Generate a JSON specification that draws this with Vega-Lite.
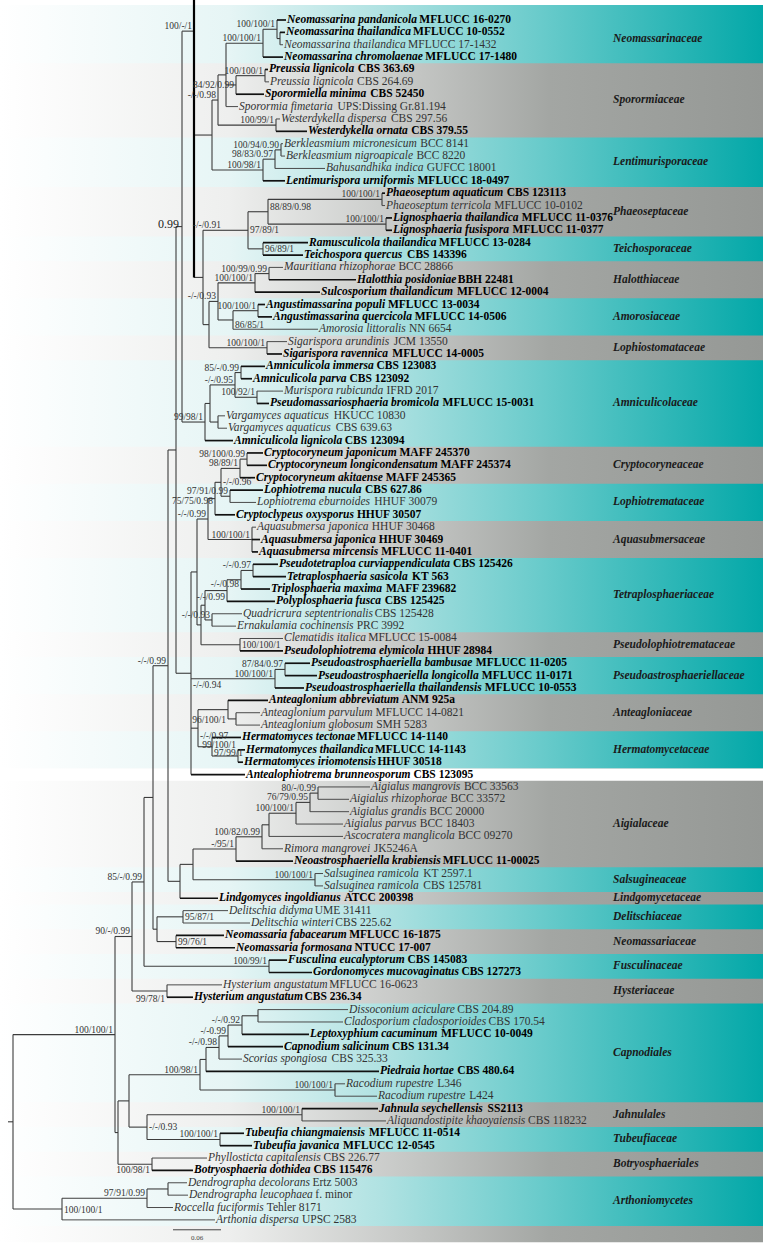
{
"$schema": "https://vega.github.io/schema/vega-lite/v6.json",
"width": 770, "height": 1247, "padding": 0, "autosize": {"type": "none"},
"background": "white",
"config": {"view": {"stroke": null}, "font": "Liberation Serif"},
"datasets": {
"taxa": [
{"r":1,"tx":0.3575,"p":0.34625,"n":"Neomassarina pandanicola","s":"MFLUCC 16-0270","b":1},
{"r":2,"tx":0.35625,"p":0.35,"n":"Neomassarina thailandica","s":"MFLUCC 10-0552","b":1},
{"r":3,"tx":0.35375,"p":0.35,"n":"Neomassarina thailandica","s":"MFLUCC 17-1432","b":0},
{"r":4,"tx":0.35375,"p":0.32875,"n":"Neomassarina chromolaenae","s":"MFLUCC 17-1480","b":1},
{"r":5,"tx":0.335,"p":0.33125,"n":"Preussia lignicola","s":"CBS 363.69","b":1},
{"r":6,"tx":0.33625,"p":0.33125,"n":"Preussia lignicola","s":"CBS 264.69","b":0},
{"r":7,"tx":0.33,"p":0.295,"n":"Sporormiella minima","s":"CBS 52450","b":1},
{"r":8,"tx":0.2975,"p":0.2825,"n":"Sporormia fimetaria","s":"UPS:Dissing Gr.81.194","b":0},
{"r":9,"tx":0.35,"p":0.345,"n":"Westerdykella dispersa","s":"CBS 297.56","b":0},
{"r":10,"tx":0.38375,"p":0.345,"n":"Westerdykella ornata","s":"CBS 379.55","b":1},
{"r":11,"tx":0.35375,"p":0.35125,"n":"Berkleasmium micronesicum","s":"BCC 8141","b":0},
{"r":12,"tx":0.35625,"p":0.35125,"n":"Berkleasmium nigroapicale","s":"BCC 8220","b":0},
{"r":13,"tx":0.40625,"p":0.34375,"n":"Bahusandhika indica","s":"GUFCC 18001","b":0},
{"r":14,"tx":0.35625,"p":0.32875,"n":"Lentimurispora urniformis","s":"MFLUCC 18-0497","b":1},
{"r":15,"tx":0.48125,"p":0.4775,"n":"Phaeoseptum aquaticum","s":"CBS 123113","b":1},
{"r":16,"tx":0.48125,"p":0.4775,"n":"Phaeoseptum terricola","s":"MFLUCC 10-0102","b":0},
{"r":17,"tx":0.49,"p":0.4825,"n":"Lignosphaeria thailandica","s":"MFLUCC 11-0376","b":1},
{"r":18,"tx":0.49,"p":0.4825,"n":"Lignosphaeria fusispora","s":"MFLUCC 11-0377","b":1},
{"r":19,"tx":0.385,"p":0.32875,"n":"Ramusculicola thailandica","s":"MFLUCC 13-0284","b":1},
{"r":20,"tx":0.37875,"p":0.32875,"n":"Teichospora quercus","s":"CBS 143396","b":1},
{"r":21,"tx":0.35375,"p":0.33625,"n":"Mauritiana rhizophorae","s":"BCC 28866","b":0},
{"r":22,"tx":0.445,"p":0.33625,"n":"Halotthia posidoniae","s":"BBH 22481","b":1},
{"r":23,"tx":0.4,"p":0.31875,"n":"Sulcosporium thailandicum","s":"MFLUCC 12-0004","b":1},
{"r":24,"tx":0.33125,"p":0.3225,"n":"Angustimassarina populi","s":"MFLUCC 13-0034","b":1},
{"r":25,"tx":0.34,"p":0.3225,"n":"Angustimassarina quercicola","s":"MFLUCC 14-0506","b":1},
{"r":26,"tx":0.3975,"p":0.29125,"n":"Amorosia littoralis","s":"NN 6654","b":0},
{"r":27,"tx":0.35875,"p":0.33375,"n":"Sigarispora arundinis","s":"JCM 13550","b":0},
{"r":28,"tx":0.3525,"p":0.33375,"n":"Sigarispora ravennica","s":"MFLUCC 14-0005","b":1},
{"r":29,"tx":0.33125,"p":0.30125,"n":"Amniculicola immersa","s":"CBS 123083","b":1},
{"r":30,"tx":0.315,"p":0.30125,"n":"Amniculicola parva","s":"CBS 123092","b":1},
{"r":31,"tx":0.35375,"p":0.32125,"n":"Murispora rubicunda","s":"IFRD 2017","b":0},
{"r":32,"tx":0.33625,"p":0.32125,"n":"Pseudomassariosphaeria bromicola","s":"MFLUCC 15-0031","b":1},
{"r":33,"tx":0.28125,"p":0.2725,"n":"Vargamyces aquaticus","s":"HKUCC 10830","b":0},
{"r":34,"tx":0.28375,"p":0.2725,"n":"Vargamyces aquaticus","s":"CBS 639.63","b":0},
{"r":35,"tx":0.29125,"p":0.25625,"n":"Amniculicola lignicola","s":"CBS 123094","b":1},
{"r":36,"tx":0.32875,"p":0.30875,"n":"Cryptocoryneum japonicum","s":"MAFF 245370","b":1},
{"r":37,"tx":0.33375,"p":0.30875,"n":"Cryptocoryneum longicondensatum","s":"MAFF 245374","b":1},
{"r":38,"tx":0.31875,"p":0.3,"n":"Cryptocoryneum akitaense","s":"MAFF 245365","b":1},
{"r":39,"tx":0.32875,"p":0.2875,"n":"Lophiotrema nucula","s":"CBS 627.86","b":1},
{"r":40,"tx":0.32,"p":0.2875,"n":"Lophiotrema eburnoides","s":"HHUF 30079","b":0},
{"r":41,"tx":0.29375,"p":0.26875,"n":"Cryptoclypeus oxysporus","s":"HHUF 30507","b":1},
{"r":42,"tx":0.32,"p":0.315,"n":"Aquasubmersa japonica","s":"HHUF 30468","b":0},
{"r":43,"tx":0.325,"p":0.315,"n":"Aquasubmersa japonica","s":"HHUF 30469","b":1},
{"r":44,"tx":0.3225,"p":0.315,"n":"Aquasubmersa mircensis","s":"MFLUCC 11-0401","b":1},
{"r":45,"tx":0.3475,"p":0.31625,"n":"Pseudotetraploa curviappendiculata","s":"CBS 125426","b":1},
{"r":46,"tx":0.3575,"p":0.31625,"n":"Tetraplosphaeria sasicola","s":"KT 563","b":1},
{"r":47,"tx":0.3375,"p":0.30125,"n":"Triplosphaeria maxima","s":"MAFF 239682","b":1},
{"r":48,"tx":0.34375,"p":0.28375,"n":"Polyplosphaeria fusca","s":"CBS 125425","b":1},
{"r":49,"tx":0.3025,"p":0.265,"n":"Quadricrura septentrionalis","s":"CBS 125428","b":0},
{"r":50,"tx":0.295,"p":0.265,"n":"Ernakulamia cochinensis","s":"PRC 3992","b":0},
{"r":51,"tx":0.35375,"p":0.3,"n":"Clematidis italica","s":"MFLUCC 15-0084","b":0},
{"r":52,"tx":0.35375,"p":0.3,"n":"Pseudolophiotrema elymicola","s":"HHUF 28984","b":1},
{"r":53,"tx":0.3875,"p":0.35625,"n":"Pseudoastrosphaeriella bambusae","s":"MFLUCC 11-0205","b":1},
{"r":54,"tx":0.39625,"p":0.35625,"n":"Pseudoastrosphaeriella longicolla","s":"MFLUCC 11-0171","b":1},
{"r":55,"tx":0.38,"p":0.34375,"n":"Pseudoastrosphaeriella thailandensis","s":"MFLUCC 10-0553","b":1},
{"r":56,"tx":0.335,"p":0.285,"n":"Anteaglonium abbreviatum","s":"ANM 925a","b":1},
{"r":57,"tx":0.325,"p":0.295,"n":"Anteaglonium parvulum","s":"MFLUCC 14-0821","b":0},
{"r":58,"tx":0.325,"p":0.295,"n":"Anteaglonium globosum","s":"SMH 5283","b":0},
{"r":59,"tx":0.30125,"p":0.265,"n":"Hermatomyces tectonae","s":"MFLUCC 14-1140","b":1},
{"r":60,"tx":0.30625,"p":0.2975,"n":"Hermatomyces thailandica","s":"MFLUCC 14-1143","b":1},
{"r":61,"tx":0.30375,"p":0.2975,"n":"Hermatomyces iriomotensis","s":"HHUF 30518","b":1},
{"r":62,"tx":0.30625,"p":0.23875,"n":"Antealophiotrema brunneosporum","s":"CBS 123095","b":1},
{"r":63,"tx":0.4625,"p":0.3975,"n":"Aigialus mangrovis","s":"BCC 33563","b":0},
{"r":64,"tx":0.43625,"p":0.3975,"n":"Aigialus rhizophorae","s":"BCC 33572","b":0},
{"r":65,"tx":0.43625,"p":0.3875,"n":"Aigialus grandis","s":"BCC 20000","b":0},
{"r":66,"tx":0.42875,"p":0.37,"n":"Aigialus parvus","s":"BCC 18403","b":0},
{"r":67,"tx":0.42875,"p":0.33625,"n":"Ascocratera manglicola","s":"BCC 09270","b":0},
{"r":68,"tx":0.35375,"p":0.3275,"n":"Rimora mangrovei","s":"JK5246A","b":0},
{"r":69,"tx":0.36625,"p":0.295,"n":"Neoastrosphaeriella krabiensis","s":"MFLUCC 11-00025","b":1},
{"r":70,"tx":0.40375,"p":0.39375,"n":"Salsuginea ramicola","s":"KT 2597.1","b":0},
{"r":71,"tx":0.40375,"p":0.39375,"n":"Salsuginea ramicola","s":"CBS 125781","b":0},
{"r":72,"tx":0.2725,"p":0.225,"n":"Lindgomyces ingoldianus","s":"ATCC 200398","b":1},
{"r":73,"tx":0.285,"p":0.22875,"n":"Delitschia didyma","s":"UME 31411","b":0},
{"r":74,"tx":0.3125,"p":0.22875,"n":"Delitschia winteri","s":"CBS 225.62","b":0},
{"r":75,"tx":0.28,"p":0.22,"n":"Neomassaria fabacearum","s":"MFLUCC 16-1875","b":1},
{"r":76,"tx":0.29375,"p":0.22,"n":"Neomassaria formosana","s":"NTUCC 17-007","b":1},
{"r":77,"tx":0.35875,"p":0.33625,"n":"Fusculina eucalyptorum","s":"CBS 145083","b":1},
{"r":78,"tx":0.39,"p":0.33625,"n":"Gordonomyces mucovaginatus","s":"CBS 127273","b":1},
{"r":79,"tx":0.2775,"p":0.20875,"n":"Hysterium angustatum","s":"MFLUCC 16-0623","b":0},
{"r":80,"tx":0.24125,"p":0.20875,"n":"Hysterium angustatum","s":"CBS 236.34","b":1},
{"r":81,"tx":0.435,"p":0.3225,"n":"Dissoconium aciculare","s":"CBS 204.89","b":0},
{"r":82,"tx":0.42875,"p":0.3225,"n":"Cladosporium cladosporioides","s":"CBS 170.54","b":0},
{"r":83,"tx":0.38625,"p":0.3025,"n":"Leptoxyphium cacuminum","s":"MFLUCC 10-0049","b":1},
{"r":84,"tx":0.35375,"p":0.285,"n":"Capnodium salicinum","s":"CBS 131.34","b":1},
{"r":85,"tx":0.3025,"p":0.27375,"n":"Scorias spongiosa","s":"CBS 325.33","b":0},
{"r":86,"tx":0.47375,"p":0.2575,"n":"Piedraia hortae","s":"CBS 480.64","b":1},
{"r":87,"tx":0.43125,"p":0.41875,"n":"Racodium rupestre","s":"L346","b":0},
{"r":88,"tx":0.47125,"p":0.41875,"n":"Racodium rupestre","s":"L424","b":0},
{"r":89,"tx":0.4725,"p":0.3775,"n":"Jahnula seychellensis","s":"SS2113","b":1},
{"r":90,"tx":0.4825,"p":0.3775,"n":"Aliquandostipite khaoyaiensis","s":"CBS 118232","b":0},
{"r":91,"tx":0.305,"p":0.275,"n":"Tubeufia chiangmaiensis","s":"MFLUCC 11-0514","b":1},
{"r":92,"tx":0.315,"p":0.275,"n":"Tubeufia javanica","s":"MFLUCC 12-0545","b":1},
{"r":93,"tx":0.25875,"p":0.19,"n":"Phyllosticta capitalensis","s":"CBS 226.77","b":0},
{"r":94,"tx":0.24125,"p":0.19,"n":"Botryosphaeria dothidea","s":"CBS 115476","b":1},
{"r":95,"tx":0.23375,"p":0.21,"n":"Dendrographa decolorans","s":"Ertz 5003","b":0},
{"r":96,"tx":0.235,"p":0.21,"n":"Dendrographa leucophaea","s":"f. minor","b":0},
{"r":97,"tx":0.21625,"p":0.18375,"n":"Roccella fuciformis","s":"Tehler 8171","b":0},
{"r":98,"tx":0.26875,"p":0.0775,"n":"Arthonia dispersa","s":"UPSC 2583","b":0}
],
"nodes": [
{"id":"Nt","x":0.35,"p":0.34625,"r":2.5,"lo":2,"hi":3,"s":""},
{"id":"N3","x":0.34625,"p":0.32875,"r":1.75,"lo":1,"hi":2.5,"s":"100/100/1"},
{"id":"N4","x":0.32875,"p":0.2825,"r":2.875,"lo":1.75,"hi":4,"s":"100/100/1"},
{"id":"Pre","x":0.33125,"p":0.295,"r":5.5,"lo":5,"hi":6,"s":"100/100/1"},
{"id":"S1","x":0.295,"p":0.2825,"r":6.25,"lo":5.5,"hi":7,"s":"84/92/0.99"},
{"id":"NS","x":0.2825,"p":0.2725,"r":5.4375,"lo":2.875,"hi":8,"s":""},
{"id":"Wd","x":0.345,"p":0.2725,"r":9.5,"lo":9,"hi":10,"s":"100/99/1"},
{"id":"Bk","x":0.35125,"p":0.34375,"r":11.5,"lo":11,"hi":12,"s":"100/94/0.90"},
{"id":"BkB","x":0.34375,"p":0.32875,"r":12.25,"lo":11.5,"hi":13,"s":"98/83/0.97"},
{"id":"Lenti","x":0.32875,"p":0.265,"r":13.125,"lo":12.25,"hi":14,"s":"100/98/1"},
{"id":"A","x":0.2725,"p":0.265,"r":7.47,"lo":5.4375,"hi":9.5,"s":"-/-/0.98"},
{"id":"A2","x":0.265,"p":0.2425,"r":10.3,"lo":7.47,"hi":13.125,"s":""},
{"id":"Ph","x":0.4775,"p":0.335,"r":15.5,"lo":15,"hi":16,"s":"100/100/1"},
{"id":"Lg","x":0.4825,"p":0.335,"r":17.5,"lo":17,"hi":18,"s":"100/100/1"},
{"id":"PL","x":0.335,"p":0.31,"r":16.5,"lo":15.5,"hi":17.5,"s":"88/89/0.98"},
{"id":"Te","x":0.32875,"p":0.31,"r":19.5,"lo":19,"hi":20,"s":"96/89/1"},
{"id":"PT","x":0.31,"p":0.27875,"r":18,"lo":16.5,"hi":19.5,"s":"97/89/1"},
{"id":"PTs","x":0.27875,"p":0.25375,"r":18,"lo":18,"hi":18,"s":"-/-/0.91"},
{"id":"Ha1","x":0.33625,"p":0.31875,"r":21.5,"lo":21,"hi":22,"s":"100/99/0.99"},
{"id":"Halo","x":0.31875,"p":0.2725,"r":22.25,"lo":21.5,"hi":23,"s":"100/100/1"},
{"id":"Am1","x":0.3225,"p":0.29125,"r":24.5,"lo":24,"hi":25,"s":"100/100/1"},
{"id":"Am","x":0.29125,"p":0.2725,"r":25.25,"lo":24.5,"hi":26,"s":"86/85/1"},
{"id":"X218","x":0.2725,"p":0.26125,"r":23.75,"lo":22.25,"hi":25.25,"s":"-/-/0.93"},
{"id":"Sig","x":0.33375,"p":0.26125,"r":27.5,"lo":27,"hi":28,"s":"100/100/1"},
{"id":"X209","x":0.26125,"p":0.25375,"r":25.625,"lo":23.75,"hi":27.5,"s":""},
{"id":"N091","x":0.25375,"p":0.2425,"r":21.81,"lo":18,"hi":25.625,"s":""},
{"id":"X194","x":0.2425,"p":0.2275,"r":1.9,"lo":-1.75,"hi":21.81,"s":"100/-/1"},
{"id":"Am_a","x":0.30125,"p":0.29375,"r":29.5,"lo":29,"hi":30,"s":"85/-/0.99"},
{"id":"Mb","x":0.32125,"p":0.29375,"r":31.5,"lo":31,"hi":32,"s":"100/92/1"},
{"id":"AmM","x":0.29375,"p":0.2625,"r":30.5,"lo":29.5,"hi":31.5,"s":"-/-/0.95"},
{"id":"V","x":0.2725,"p":0.2625,"r":33.5,"lo":33,"hi":34,"s":""},
{"id":"AmV","x":0.2625,"p":0.25625,"r":32,"lo":30.5,"hi":33.5,"s":""},
{"id":"Amn","x":0.25625,"p":0.2275,"r":33.5,"lo":32,"hi":35,"s":"99/98/1"},
{"id":"N099","x":0.2275,"p":0.22,"r":17.7,"lo":1.9,"hi":33.5,"s":"0.99"},
{"id":"Cr1","x":0.30875,"p":0.3,"r":36.5,"lo":36,"hi":37,"s":"98/100/0.99"},
{"id":"Cr","x":0.3,"p":0.27625,"r":37.25,"lo":36.5,"hi":38,"s":"98/89/1"},
{"id":"Lo1","x":0.2875,"p":0.27625,"r":39.5,"lo":39,"hi":40,"s":"97/91/0.99"},
{"id":"CL","x":0.27625,"p":0.26875,"r":38.375,"lo":37.25,"hi":39.5,"s":"-/-/0.96"},
{"id":"CLC","x":0.26875,"p":0.26,"r":39.69,"lo":38.375,"hi":41,"s":"75/75/0.98"},
{"id":"Aq","x":0.315,"p":0.26,"r":43,"lo":42,"hi":44,"s":"100/100/1"},
{"id":"CA","x":0.26,"p":0.24625,"r":41.34,"lo":39.69,"hi":43,"s":"-/-/0.99"},
{"id":"Tp1","x":0.31625,"p":0.30125,"r":45.5,"lo":45,"hi":46,"s":"-/-/0.97"},
{"id":"Tp2","x":0.30125,"p":0.28375,"r":46.25,"lo":45.5,"hi":47,"s":"-/-/0.98"},
{"id":"Tp3","x":0.28375,"p":0.25625,"r":47.125,"lo":46.25,"hi":48,"s":"-/-/0.99"},
{"id":"Tp4","x":0.265,"p":0.25625,"r":49.5,"lo":49,"hi":50,"s":"-/-/0.93"},
{"id":"Tetra","x":0.25625,"p":0.25125,"r":48.31,"lo":47.125,"hi":49.5,"s":""},
{"id":"Cl","x":0.3,"p":0.25125,"r":51.5,"lo":51,"hi":52,"s":"100/100/1"},
{"id":"TC","x":0.25125,"p":0.24625,"r":49.9,"lo":48.31,"hi":51.5,"s":""},
{"id":"R1","x":0.24625,"p":0.23875,"r":45.62,"lo":41.34,"hi":49.9,"s":""},
{"id":"Pa1","x":0.35625,"p":0.34375,"r":53.5,"lo":53,"hi":54,"s":"87/84/0.97"},
{"id":"Pa","x":0.34375,"p":0.23875,"r":54.25,"lo":53.5,"hi":55,"s":"100/100/1"},
{"id":"Ant2","x":0.295,"p":0.285,"r":57.5,"lo":57,"hi":58,"s":""},
{"id":"Ant","x":0.285,"p":0.2475,"r":56.75,"lo":56,"hi":57.5,"s":"96/100/1"},
{"id":"Hm2","x":0.2975,"p":0.265,"r":60.5,"lo":60,"hi":61,"s":"99/100/1"},
{"id":"Hm","x":0.265,"p":0.2475,"r":59.75,"lo":59,"hi":60.5,"s":"97/99/1"},
{"id":"HA","x":0.2475,"p":0.23875,"r":58.25,"lo":56.75,"hi":59.75,"s":"-/-/0.97"},
{"id":"Y","x":0.23875,"p":0.22,"r":53.81,"lo":45.62,"hi":62,"s":"-/-/0.94"},
{"id":"X176","x":0.22,"p":0.21,"r":35.76,"lo":17.7,"hi":53.81,"s":""},
{"id":"A5","x":0.3975,"p":0.3875,"r":63.5,"lo":63,"hi":64,"s":"80/-/0.99"},
{"id":"A4","x":0.3875,"p":0.37,"r":64.25,"lo":63.5,"hi":65,"s":"76/79/0.95"},
{"id":"A3","x":0.37,"p":0.33625,"r":65.125,"lo":64.25,"hi":66,"s":"100/100/1"},
{"id":"A2x","x":0.33625,"p":0.3275,"r":66.06,"lo":65.125,"hi":67,"s":""},
{"id":"A1","x":0.3275,"p":0.295,"r":67.03,"lo":66.06,"hi":68,"s":"100/82/0.99"},
{"id":"L3","x":0.295,"p":0.24125,"r":68.02,"lo":67.03,"hi":69,"s":"-/95/1"},
{"id":"Sal","x":0.39375,"p":0.24125,"r":70.5,"lo":70,"hi":71,"s":"100/100/1"},
{"id":"L2","x":0.24125,"p":0.225,"r":69.26,"lo":68.02,"hi":70.5,"s":""},
{"id":"L1","x":0.225,"p":0.21,"r":70.63,"lo":69.26,"hi":72,"s":""},
{"id":"X168","x":0.21,"p":0.19125,"r":53.2,"lo":35.76,"hi":70.63,"s":"-/-/0.99"},
{"id":"Del","x":0.22875,"p":0.19625,"r":73.5,"lo":73,"hi":74,"s":"95/87/1"},
{"id":"Neo","x":0.22,"p":0.19625,"r":75.5,"lo":75,"hi":76,"s":"99/76/1"},
{"id":"DN","x":0.19625,"p":0.19125,"r":74.5,"lo":73.5,"hi":75.5,"s":""},
{"id":"X153","x":0.19125,"p":0.18,"r":63.85,"lo":53.2,"hi":74.5,"s":""},
{"id":"Fusc","x":0.33625,"p":0.18,"r":77.5,"lo":77,"hi":78,"s":"100/99/1"},
{"id":"D3","x":0.18,"p":0.165,"r":70.68,"lo":63.85,"hi":77.5,"s":"85/-/0.99"},
{"id":"Hyst","x":0.20875,"p":0.165,"r":79.5,"lo":79,"hi":80,"s":"99/78/1"},
{"id":"D2","x":0.165,"p":0.14375,"r":75.09,"lo":70.68,"hi":79.5,"s":"90/-/0.99"},
{"id":"C1","x":0.3225,"p":0.3025,"r":81.5,"lo":81,"hi":82,"s":""},
{"id":"C2","x":0.3025,"p":0.285,"r":82.25,"lo":81.5,"hi":83,"s":"-/-/0.92"},
{"id":"C3","x":0.285,"p":0.27375,"r":83.125,"lo":82.25,"hi":84,"s":"-/-0.99"},
{"id":"C4","x":0.27375,"p":0.2575,"r":84.06,"lo":83.125,"hi":85,"s":"-/-/0.98"},
{"id":"C5","x":0.2575,"p":0.25,"r":85.03,"lo":84.06,"hi":86,"s":""},
{"id":"Rac","x":0.41875,"p":0.25,"r":87.5,"lo":87,"hi":88,"s":"100/100/1"},
{"id":"Cap","x":0.25,"p":0.16125,"r":86.27,"lo":85.03,"hi":87.5,"s":"100/98/1"},
{"id":"Jah","x":0.3775,"p":0.18375,"r":89.5,"lo":89,"hi":90,"s":"100/100/1"},
{"id":"Tub","x":0.275,"p":0.18375,"r":91.5,"lo":91,"hi":92,"s":"100/100/1"},
{"id":"JT","x":0.18375,"p":0.16125,"r":90.5,"lo":89.5,"hi":91.5,"s":"-/-/0.93"},
{"id":"CJ","x":0.16125,"p":0.1475,"r":88.38,"lo":86.27,"hi":90.5,"s":""},
{"id":"Bot","x":0.19,"p":0.1475,"r":93.5,"lo":93,"hi":94,"s":"100/98/1"},
{"id":"Low","x":0.1475,"p":0.14375,"r":90.94,"lo":88.38,"hi":93.5,"s":""},
{"id":"D1","x":0.14375,"p":0.01625,"r":83.02,"lo":75.09,"hi":90.94,"s":"100/100/1"},
{"id":"Den","x":0.21,"p":0.18375,"r":95.5,"lo":95,"hi":96,"s":""},
{"id":"DR","x":0.18375,"p":0.0775,"r":96.25,"lo":95.5,"hi":97,"s":"97/91/0.99"},
{"id":"Art","x":0.0775,"p":0.01625,"r":97.125,"lo":96.25,"hi":98,"s":"100/100/1"},
{"id":"Root","x":0.01625,"p":0.01,"r":90.07,"lo":83.02,"hi":97.125,"s":""}
],
"fam": [
{"f":"Neomassarinaceae","a":1,"b":4,"k":"t"},
{"f":"Sporormiaceae","a":5,"b":10,"k":"g"},
{"f":"Lentimurisporaceae","a":11,"b":14,"k":"t"},
{"f":"Phaeoseptaceae","a":15,"b":18,"k":"g"},
{"f":"Teichosporaceae","a":19,"b":20,"k":"t"},
{"f":"Halotthiaceae","a":21,"b":23,"k":"g"},
{"f":"Amorosiaceae","a":24,"b":26,"k":"t"},
{"f":"Lophiostomataceae","a":27,"b":28,"k":"g"},
{"f":"Amniculicolaceae","a":29,"b":35,"k":"t"},
{"f":"Cryptocoryneaceae","a":36,"b":38,"k":"g"},
{"f":"Lophiotremataceae","a":39,"b":41,"k":"t"},
{"f":"Aquasubmersaceae","a":42,"b":44,"k":"g"},
{"f":"Tetraplosphaeriaceae","a":45,"b":50,"k":"t"},
{"f":"Pseudolophiotremataceae","a":51,"b":52,"k":"g"},
{"f":"Pseudoastrosphaeriellaceae","a":53,"b":55,"k":"t"},
{"f":"Anteagloniaceae","a":56,"b":58,"k":"g"},
{"f":"Hermatomycetaceae","a":59,"b":61,"k":"t"},
{"f":"","a":62,"b":62,"k":"w"},
{"f":"Aigialaceae","a":63,"b":69,"k":"g"},
{"f":"Salsugineaceae","a":70,"b":71,"k":"t"},
{"f":"Lindgomycetaceae","a":72,"b":72,"k":"g"},
{"f":"Delitschiaceae","a":73,"b":74,"k":"t"},
{"f":"Neomassariaceae","a":75,"b":76,"k":"g"},
{"f":"Fusculinaceae","a":77,"b":78,"k":"t"},
{"f":"Hysteriaceae","a":79,"b":80,"k":"g"},
{"f":"Capnodiales","a":81,"b":88,"k":"t"},
{"f":"Jahnulales","a":89,"b":90,"k":"g"},
{"f":"Tubeufiaceae","a":91,"b":92,"k":"t"},
{"f":"Botryosphaeriales","a":93,"b":94,"k":"g"},
{"f":"Arthoniomycetes","a":95,"b":98,"k":"t"}
]
},
"layer": [
{"data": {"values": [{"lo": -0.21, "hi": 99.8}]},
 "mark": {"type": "rect", "fill": {"gradient": "linear", "x1": 0, "y1": 0, "x2": 1, "y2": 0, "stops": [{"offset": 0, "color": "#ffffff"}, {"offset": 0.3, "color": "#eeefee"}, {"offset": 0.55, "color": "#c3c5c3"}, {"offset": 0.72, "color": "#a3a6a3"}, {"offset": 1, "color": "#959895"}]}},
 "encoding": {
  "x": {"datum": 0, "type": "quantitative", "scale": {"domain": [0, 0.9625], "nice": false, "zero": false}, "axis": null},
  "x2": {"datum": 0.95375},
  "y": {"field": "lo", "type": "quantitative", "scale": {"domain": [-0.6168, 100.1916], "nice": false, "zero": false, "reverse": true}, "axis": null},
  "y2": {"field": "hi"}}},
{"data": {"name": "fam"},
 "transform": [{"filter": "datum.k === 't'"}, {"calculate": "datum.a === 1 ? -0.21 : datum.a - 0.5", "as": "lo"}, {"calculate": "datum.b + 0.5", "as": "hi"}],
 "mark": {"type": "rect", "fill": {"gradient": "linear", "x1": 0, "y1": 0, "x2": 1, "y2": 0, "stops": [{"offset": 0, "color": "#ffffff"}, {"offset": 0.3, "color": "#e6f5f5"}, {"offset": 0.5, "color": "#b0e2e2"}, {"offset": 0.7, "color": "#6ccccc"}, {"offset": 1, "color": "#03a8a8"}]}},
 "encoding": {
  "x": {"datum": 0, "type": "quantitative", "scale": {"domain": [0, 0.9625], "nice": false, "zero": false}, "axis": null},
  "x2": {"datum": 0.95375},
  "y": {"field": "lo", "type": "quantitative", "scale": {"domain": [-0.6168, 100.1916], "nice": false, "zero": false, "reverse": true}, "axis": null},
  "y2": {"field": "hi"}}},
{"data": {"name": "fam"},
 "transform": [{"filter": "datum.k === 'w'"}, {"calculate": "datum.a - 0.5", "as": "lo"}, {"calculate": "datum.b + 0.5", "as": "hi"}],
 "mark": {"type": "rect", "fill": "#ffffff"},
 "encoding": {
  "x": {"datum": 0, "type": "quantitative", "scale": {"domain": [0, 0.9625], "nice": false, "zero": false}, "axis": null},
  "x2": {"datum": 0.95375},
  "y": {"field": "lo", "type": "quantitative", "scale": {"domain": [-0.6168, 100.1916], "nice": false, "zero": false, "reverse": true}, "axis": null},
  "y2": {"field": "hi"}}},
{"data": {"name": "nodes"},
 "mark": {"type": "rule", "color": "#3c3c3c", "strokeWidth": 1.1},
 "encoding": {
  "x": {"field": "p", "type": "quantitative", "scale": {"domain": [0, 0.9625], "nice": false, "zero": false}, "axis": null},
  "x2": {"field": "x"},
  "y": {"field": "r", "type": "quantitative", "scale": {"domain": [-0.6168, 100.1916], "nice": false, "zero": false, "reverse": true}, "axis": null}}},
{"data": {"name": "nodes"},
 "transform": [{"filter": "datum.id !== 'X194' && datum.hi > datum.lo"}],
 "mark": {"type": "rule", "color": "#3c3c3c", "strokeWidth": 1.1},
 "encoding": {
  "x": {"field": "x", "type": "quantitative", "scale": {"domain": [0, 0.9625], "nice": false, "zero": false}, "axis": null},
  "y": {"field": "lo", "type": "quantitative", "scale": {"domain": [-0.6168, 100.1916], "nice": false, "zero": false, "reverse": true}, "axis": null},
  "y2": {"field": "hi"}}},
{"data": {"name": "nodes"},
 "transform": [{"filter": "datum.id === 'X194'"}],
 "mark": {"type": "rule", "color": "#000000", "strokeWidth": 2.2},
 "encoding": {
  "x": {"field": "x", "type": "quantitative", "scale": {"domain": [0, 0.9625], "nice": false, "zero": false}, "axis": null},
  "y": {"field": "lo", "type": "quantitative", "scale": {"domain": [-0.6168, 100.1916], "nice": false, "zero": false, "reverse": true}, "axis": null},
  "y2": {"field": "hi"}}},
{"data": {"name": "taxa"},
 "transform": [{"filter": "datum.b === 0"}],
 "mark": {"type": "rule", "color": "#4a4a4a", "strokeWidth": 1},
 "encoding": {
  "x": {"field": "p", "type": "quantitative", "scale": {"domain": [0, 0.9625], "nice": false, "zero": false}, "axis": null},
  "x2": {"field": "tx"},
  "y": {"field": "r", "type": "quantitative", "scale": {"domain": [-0.6168, 100.1916], "nice": false, "zero": false, "reverse": true}, "axis": null}}},
{"data": {"name": "taxa"},
 "transform": [{"filter": "datum.b === 1"}],
 "mark": {"type": "rule", "color": "#111111", "strokeWidth": 1.7},
 "encoding": {
  "x": {"field": "p", "type": "quantitative", "scale": {"domain": [0, 0.9625], "nice": false, "zero": false}, "axis": null},
  "x2": {"field": "tx"},
  "y": {"field": "r", "type": "quantitative", "scale": {"domain": [-0.6168, 100.1916], "nice": false, "zero": false, "reverse": true}, "axis": null}}},
{"data": {"name": "taxa"},
 "transform": [{"filter": "datum.b === 0"}],
 "mark": {"type": "text", "align": "left", "baseline": "middle", "dx": 1, "font": "Liberation Serif", "fontSize": 11.5, "fontStyle": "italic", "color": "#333333"},
 "encoding": {
  "x": {"field": "tx", "type": "quantitative", "scale": {"domain": [0, 0.9625], "nice": false, "zero": false}, "axis": null},
  "y": {"field": "r", "type": "quantitative", "scale": {"domain": [-0.6168, 100.1916], "nice": false, "zero": false, "reverse": true}, "axis": null},
  "text": {"field": "n"}}},
{"data": {"name": "taxa"},
 "transform": [{"filter": "datum.b === 1"}],
 "mark": {"type": "text", "align": "left", "baseline": "middle", "dx": 1, "font": "Liberation Serif", "fontSize": 11.5, "fontStyle": "italic", "fontWeight": "bold", "color": "#000000"},
 "encoding": {
  "x": {"field": "tx", "type": "quantitative", "scale": {"domain": [0, 0.9625], "nice": false, "zero": false}, "axis": null},
  "y": {"field": "r", "type": "quantitative", "scale": {"domain": [-0.6168, 100.1916], "nice": false, "zero": false, "reverse": true}, "axis": null},
  "text": {"field": "n"}}},
{"data": {"name": "taxa"},
 "transform": [{"filter": "datum.b === 0"},
  {"calculate": "11.5*(0.5*length(datum.n) - 0.23*length(replace(datum.n, regexp('[^fijlt. ]','g'), '')) - 0.11*length(replace(datum.n, regexp('[^rsz]','g'), '')) - 0.056*length(replace(datum.n, regexp('[^cekvxy]','g'), '')) + 0.22*length(replace(datum.n, regexp('[^m]','g'), '')) + 0.167*length(replace(datum.n, regexp('[^w]','g'), '')) + 0.14*length(replace(datum.n, regexp('[^A-Z]','g'), '')) + 0.2*length(replace(datum.n, regexp('[^MW]','g'), '')))", "as": "nw"},
  {"calculate": "datum.tx + (datum.nw + 3.9)/800", "as": "sx"}],
 "mark": {"type": "text", "align": "left", "baseline": "middle", "font": "Liberation Serif", "fontSize": 11.5, "color": "#333333"},
 "encoding": {
  "x": {"field": "sx", "type": "quantitative", "scale": {"domain": [0, 0.9625], "nice": false, "zero": false}, "axis": null},
  "y": {"field": "r", "type": "quantitative", "scale": {"domain": [-0.6168, 100.1916], "nice": false, "zero": false, "reverse": true}, "axis": null},
  "text": {"field": "s"}}},
{"data": {"name": "taxa"},
 "transform": [{"filter": "datum.b === 1"},
  {"calculate": "11.5*(0.5*length(datum.n) - 0.23*length(replace(datum.n, regexp('[^ijlt. ]','g'), '')) - 0.17*length(replace(datum.n, regexp('[^f]','g'), '')) - 0.11*length(replace(datum.n, regexp('[^rsz]','g'), '')) - 0.056*length(replace(datum.n, regexp('[^cevy]','g'), '')) + 0.056*length(replace(datum.n, regexp('[^nhu]','g'), '')) + 0.278*length(replace(datum.n, regexp('[^m]','g'), '')) + 0.167*length(replace(datum.n, regexp('[^w]','g'), '')) + 0.17*length(replace(datum.n, regexp('[^A-Z]','g'), '')) + 0.2*length(replace(datum.n, regexp('[^MW]','g'), '')))", "as": "nw"},
  {"calculate": "datum.tx + (datum.nw + 3.9)/800", "as": "sx"}],
 "mark": {"type": "text", "align": "left", "baseline": "middle", "font": "Liberation Serif", "fontSize": 11.5, "fontWeight": "bold", "color": "#000000"},
 "encoding": {
  "x": {"field": "sx", "type": "quantitative", "scale": {"domain": [0, 0.9625], "nice": false, "zero": false}, "axis": null},
  "y": {"field": "r", "type": "quantitative", "scale": {"domain": [-0.6168, 100.1916], "nice": false, "zero": false, "reverse": true}, "axis": null},
  "text": {"field": "s"}}},
{"data": {"name": "nodes"},
 "transform": [{"filter": "datum.s !== '' && datum.s !== '0.99' && indexof(['PL','PT','Te','Am','CL','Y','Cl','HA','Hm','Del','Neo','JT','Art'], datum.id) < 0"},
  {"calculate": "datum.id === 'Ant' ? 10 : datum.id === 'Tp2' ? 4 : datum.id === 'Tp3' ? 6 : datum.id === 'Bot' ? 6 : datum.id === 'Hyst' ? 8 : datum.id === 'Hm2' ? -11 : datum.id === 'S1' ? 0 : datum.id === 'CLC' ? 2 : -5", "as": "off"},
  {"calculate": "datum.r + datum.off/12.37", "as": "ly"}],
 "mark": {"type": "text", "align": "right", "baseline": "middle", "dx": -2, "font": "Liberation Serif", "fontSize": 9.5, "color": "#333333"},
 "encoding": {
  "x": {"field": "x", "type": "quantitative", "scale": {"domain": [0, 0.9625], "nice": false, "zero": false}, "axis": null},
  "y": {"field": "ly", "type": "quantitative", "scale": {"domain": [-0.6168, 100.1916], "nice": false, "zero": false, "reverse": true}, "axis": null},
  "text": {"field": "s"}}},
{"data": {"name": "nodes"},
 "transform": [{"filter": "indexof(['PL','PT','Te','Am','CL','Y','Cl','HA','Hm','Del','Neo','JT','Art'], datum.id) >= 0"},
  {"calculate": "datum.id === 'PL' ? -5 : datum.id === 'Am' ? 5 : datum.id === 'HA' ? 8 : datum.id === 'Hm' ? 6 : datum.id === 'Art' ? 1 : datum.id === 'Y' ? 12 : 0", "as": "off"},
  {"calculate": "datum.r + datum.off/12.37", "as": "ly"}],
 "mark": {"type": "text", "align": "left", "baseline": "middle", "dx": 2, "font": "Liberation Serif", "fontSize": 9.5, "color": "#333333"},
 "encoding": {
  "x": {"field": "x", "type": "quantitative", "scale": {"domain": [0, 0.9625], "nice": false, "zero": false}, "axis": null},
  "y": {"field": "ly", "type": "quantitative", "scale": {"domain": [-0.6168, 100.1916], "nice": false, "zero": false, "reverse": true}, "axis": null},
  "text": {"field": "s"}}},
{"data": {"name": "nodes"},
 "transform": [{"filter": "datum.s === '0.99'"}],
 "mark": {"type": "text", "align": "right", "baseline": "middle", "dx": -3, "dy": -3, "font": "Liberation Serif", "fontSize": 12, "color": "#222222"},
 "encoding": {
  "x": {"field": "x", "type": "quantitative", "scale": {"domain": [0, 0.9625], "nice": false, "zero": false}, "axis": null},
  "y": {"field": "r", "type": "quantitative", "scale": {"domain": [-0.6168, 100.1916], "nice": false, "zero": false, "reverse": true}, "axis": null},
  "text": {"field": "s"}}},
{"data": {"name": "fam"},
 "transform": [{"filter": "datum.k !== 'w'"}, {"calculate": "(datum.a + datum.b)/2", "as": "mid"}],
 "mark": {"type": "text", "align": "left", "baseline": "middle", "font": "Liberation Serif", "fontSize": 11.5, "fontStyle": "italic", "fontWeight": "bold", "color": "#1a1a1a"},
 "encoding": {
  "x": {"datum": 0.76625, "type": "quantitative", "scale": {"domain": [0, 0.9625], "nice": false, "zero": false}, "axis": null},
  "y": {"field": "mid", "type": "quantitative", "scale": {"domain": [-0.6168, 100.1916], "nice": false, "zero": false, "reverse": true}, "axis": null},
  "text": {"field": "f"}}},
{"data": {"values": [{"lab": "0.06"}]},
 "mark": {"type": "rule", "color": "#444444", "strokeWidth": 1},
 "encoding": {
  "x": {"datum": 0.21625, "type": "quantitative", "scale": {"domain": [0, 0.9625], "nice": false, "zero": false}, "axis": null},
  "x2": {"datum": 0.27625},
  "y": {"datum": 98.8, "type": "quantitative", "scale": {"domain": [-0.6168, 100.1916], "nice": false, "zero": false, "reverse": true}, "axis": null}}},
{"data": {"values": [{"lab": "0.06"}]},
 "mark": {"type": "text", "align": "center", "baseline": "middle", "font": "Liberation Serif", "fontSize": 7, "color": "#444444"},
 "encoding": {
  "x": {"datum": 0.24625, "type": "quantitative", "scale": {"domain": [0, 0.9625], "nice": false, "zero": false}, "axis": null},
  "y": {"datum": 99.45, "type": "quantitative", "scale": {"domain": [-0.6168, 100.1916], "nice": false, "zero": false, "reverse": true}, "axis": null},
  "text": {"field": "lab"}}}
]
}
